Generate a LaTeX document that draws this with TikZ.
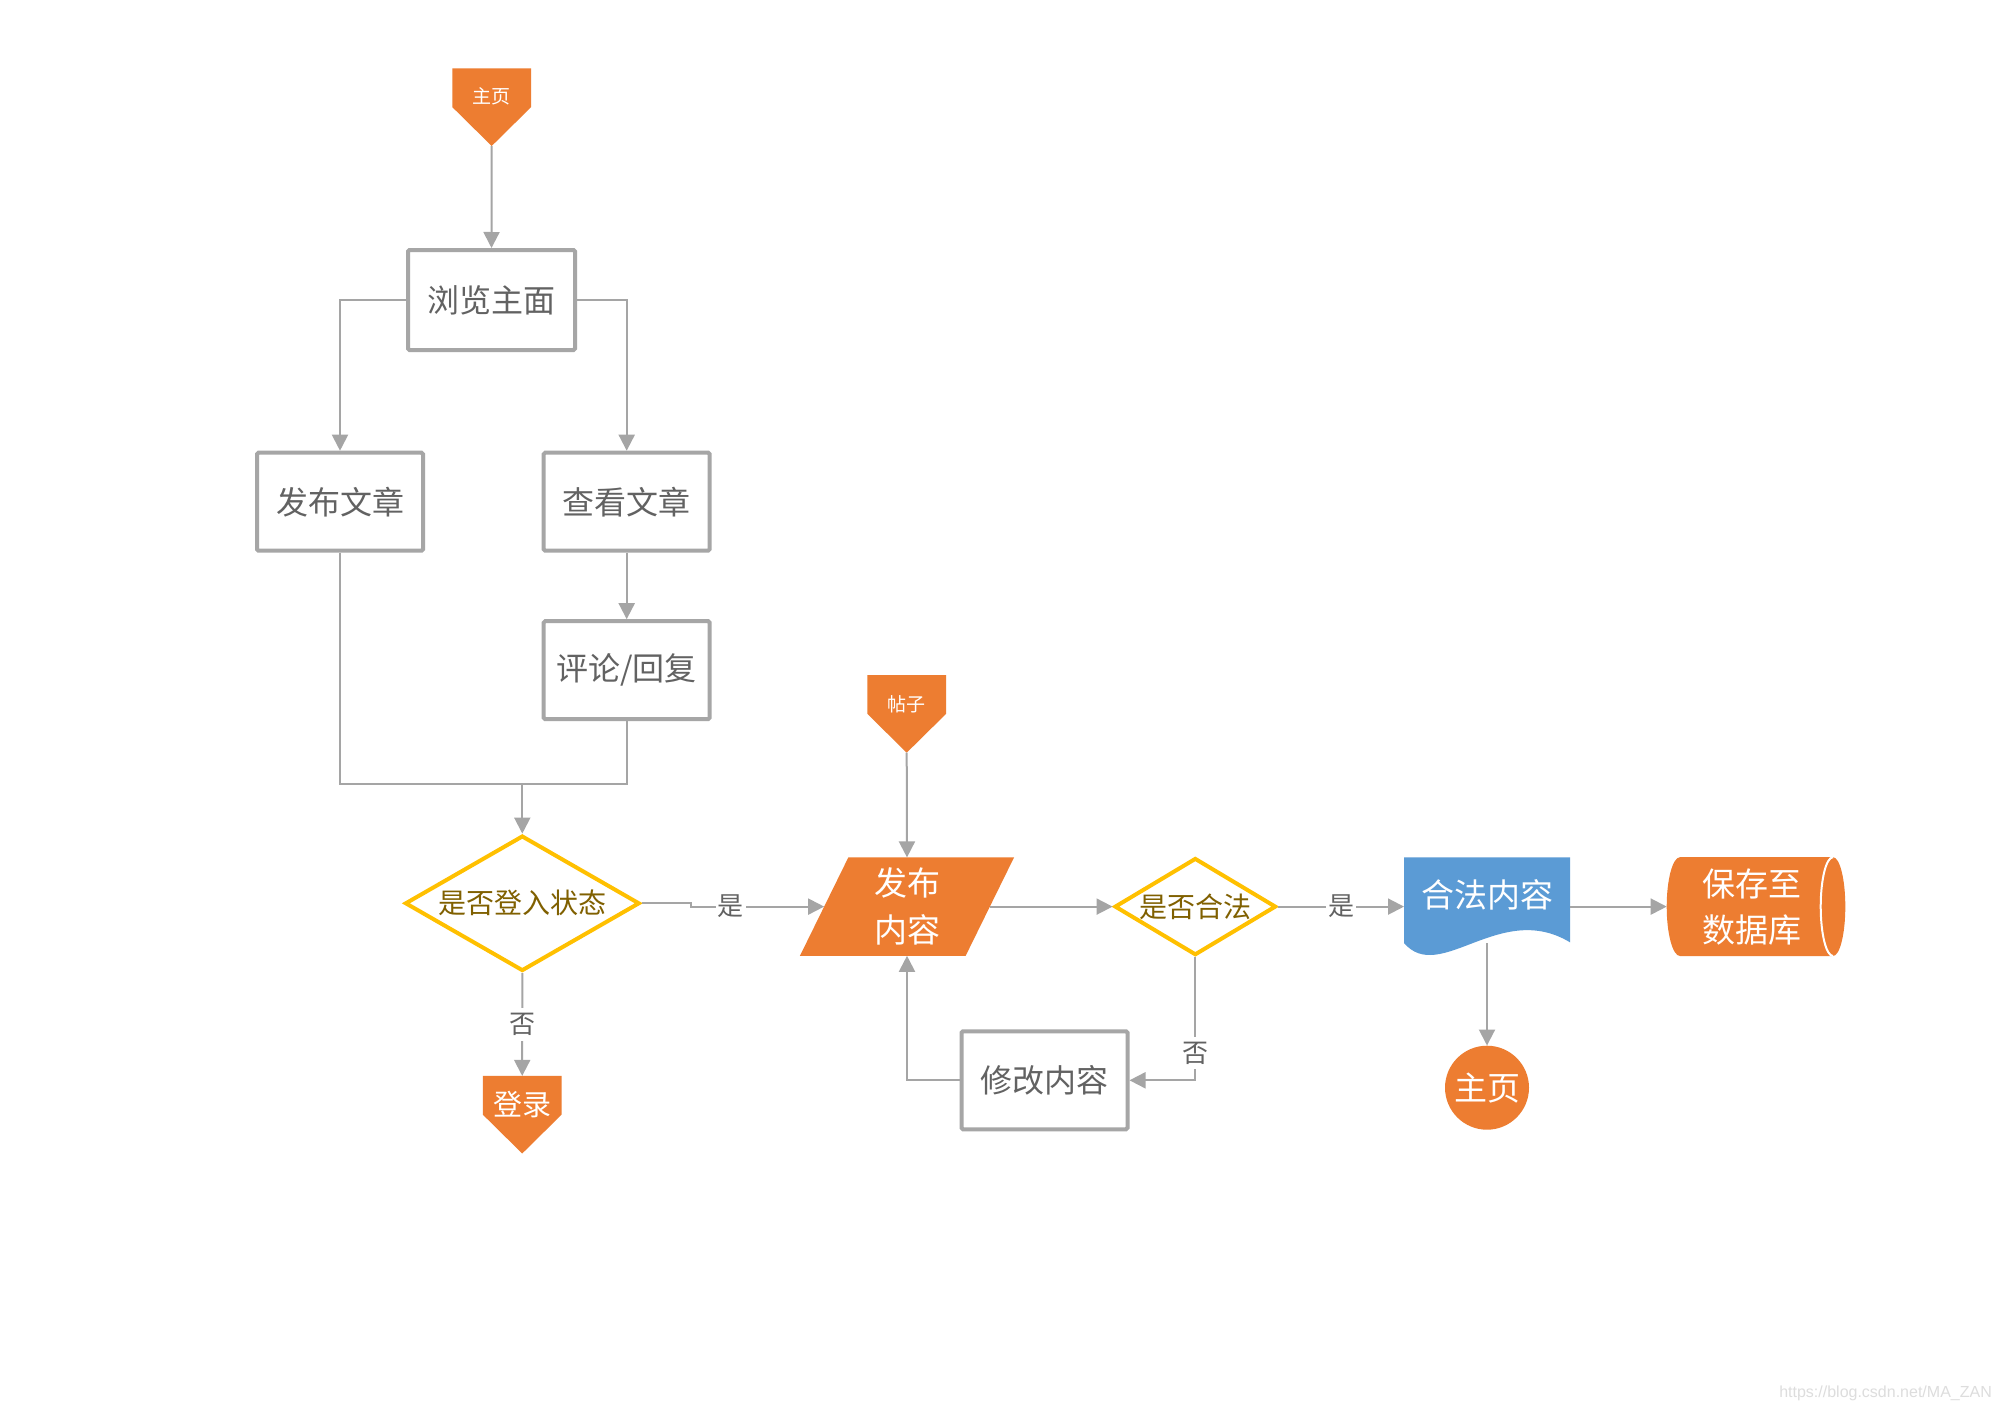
\documentclass[tikz,border=0pt]{standalone}
\usepackage{fontspec}
\newfontfamily\cjk{Noto Sans CJK SC}
\newfontfamily\wmfont{Liberation Sans}
\usetikzlibrary{arrows.meta,shapes.geometric,calc}
\pgfdeclarelayer{background}
\pgfsetlayers{background,main}
\definecolor{myorange}{HTML}{ED7D31}
\definecolor{docblue}{HTML}{5B9BD5}
\definecolor{diagold}{HTML}{FFC000}
\definecolor{diatext}{HTML}{806000}
\definecolor{linegray}{HTML}{A5A5A5}
\definecolor{boxgray}{HTML}{A6A6A6}
\definecolor{textgray}{HTML}{626262}
\definecolor{wmgray}{HTML}{DDDDDD}
\newcommand{\cjkfs}[1]{\cjk\fontsize{#1}{#1}\selectfont}
\begin{document}
\begin{tikzpicture}[x=1pt,y=-1pt,
  conn/.style={draw=linegray, line width=2pt},
  arr/.style={conn, -{Triangle[length=16pt,width=16pt]}},
  box/.style={draw=boxgray, line width=4pt, rounded corners=1.5pt, fill=white,
    minimum width=166pt, minimum height=98pt, inner sep=0pt, text=textgray, font=\cjkfs{32}},
  dec/.style={diamond, draw=diagold, line width=4pt, fill=white, inner sep=0pt,
    text=diatext, font=\cjkfs{28}},
  pent/.style={minimum width=78.6pt, minimum height=77.6pt, inner sep=0pt, outer sep=0pt},
  lbl/.style={fill=white, inner xsep=2pt, inner ysep=5pt, text=textgray, font=\cjkfs{26}},
]
\useasboundingbox (0,0) rectangle (2000,1413);

% nodes
\node[pent, label={[yshift=10.5pt,text=white,font=\cjkfs{19}]center:主页}] (home) at (491.7,107.2) {};
\node[box, minimum width=167pt, minimum height=100pt] (browse) at (491.5,300) {浏览主面};
\node[box] (post) at (340,501.7) {发布文章};
\node[box] (view) at (626.7,501.7) {查看文章};
\node[box] (reply) at (626.7,670.2) {评论/回复};
\node[dec, minimum width=234.6pt, minimum height=135.4pt, aspect=1.73] (d1) at (522.3,903.3) {是否登入状态};
\node[pent, label={[yshift=10.4pt,text=white,font=\cjkfs{29}]center:登录}] (login) at (522.2,1114.7) {};
\node[pent, label={[yshift=10.1pt,text=white,font=\cjkfs{19}]center:帖子}] (tiezi) at (906.7,713.9) {};
\node[minimum width=165.7pt, minimum height=98.4pt, inner sep=0pt, outer sep=0pt, text=white,
  font=\cjk\fontsize{33}{47}\selectfont, align=center] (pub) at (907,906.6) {发布\\内容};
\node[dec, minimum width=161.5pt, minimum height=97.1pt, aspect=1.66] (d2) at (1195.3,906.6) {是否合法};
\node[box] (modify) at (1044.5,1080.3) {修改内容};
\node[minimum width=166pt, minimum height=98.6pt, inner sep=0pt, outer sep=0pt,
  label={[yshift=11.6pt,text=white,font=\cjkfs{33}]center:合法内容}] (doc) at (1487,906.6) {};
\node[circle, fill=myorange, minimum size=84pt, inner sep=0pt, text=white, font=\cjkfs{33}] (home2) at (1487,1087.7) {主页};
\node[minimum width=178.6pt, minimum height=98.8pt, inner sep=0pt, outer sep=0pt,
  label={[xshift=-4.3pt,text=white,font=\cjk\fontsize{33}{46}\selectfont,align=center]center:保存至\\数据库}] (db) at (1756,906.6) {};
\node[anchor=east, text=wmgray, font=\wmfont\fontsize{16}{16}\selectfont, inner sep=0pt] (wm) at (1992,1393) {https://blog.csdn.net/MA\_ZAN};

% shapes
\begin{pgfonlayer}{background}
\fill[white] (0,0) rectangle (2000,1413);
\foreach \n in {home,tiezi,login}
  \fill[myorange] (\n.north west) -- (\n.north east) -- ([yshift=38.8pt]\n.south east)
    -- (\n.south) -- ([yshift=38.8pt]\n.south west) -- cycle;
\fill[myorange] ([xshift=24.2pt]pub.north west) -- ([xshift=24.2pt]pub.north east)
  -- ([xshift=-24.2pt]pub.south east) -- ([xshift=-24.2pt]pub.south west) -- cycle;
\fill[docblue] (doc.north west) -- (doc.north east) -- (1570,942.3)
  .. controls (1500,900) and (1440,985) .. (1404,943) -- cycle;
\fill[myorange] (1680,857.2) -- (1833,857.2)
  .. controls (1839.8,857.2) and (1845.3,879.3) .. (1845.3,906.6)
  .. controls (1845.3,933.9) and (1839.8,956) .. (1833,956)
  -- (1680,956)
  .. controls (1672.7,956) and (1666.7,933.9) .. (1666.7,906.6)
  .. controls (1666.7,879.3) and (1672.7,857.2) .. (1680,857.2) -- cycle;
\draw[white, line width=2pt] (1833,857.2)
  .. controls (1826.2,857.2) and (1820.7,879.3) .. (1820.7,906.6)
  .. controls (1820.7,933.9) and (1826.2,956) .. (1833,956);
\end{pgfonlayer}

% connectors
\coordinate (m) at (522.3,784);
\coordinate (docb) at (1487,943);
\draw[arr] (home.south) -- (browse.north);
\draw[arr] (browse.west) -| (post.north);
\draw[arr] (browse.east) -| (view.north);
\draw[arr] (view.south) -- (reply.north);
\draw[conn] (post.south) |- (m) -| (reply.south);
\draw[arr] (m) -- (d1.north);
\draw[arr] (d1.south) -- node[lbl]{否} (login.north);
\draw[arr] (d1.east) -- ++(49,0) |- node[lbl,pos=0.65]{是} (pub.west);
\draw[arr] (tiezi.south) -- (pub.north);
\draw[arr] (pub.east) -- (d2.west);
\draw[arr] (d2.south) |- node[lbl,pos=0.39]{否} (modify.east);
\draw[arr] (modify.west) -| (pub.south);
\draw[arr] (d2.east) -- node[lbl]{是} (doc.west);
\draw[arr] (doc.east) -- (db.west);
\draw[arr] (docb) -- (home2.north);
\end{tikzpicture}
\end{document}
